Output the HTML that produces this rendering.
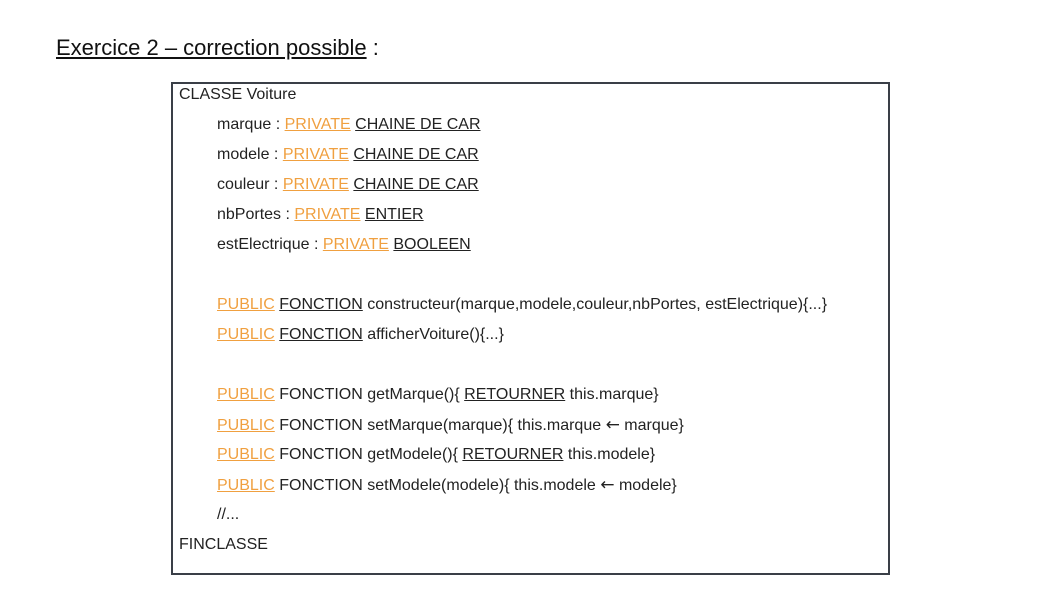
<!DOCTYPE html>
<html><head><meta charset="utf-8"><style>
body{margin:0;width:1062px;height:606px;background:#fff;position:relative;overflow:hidden;font-family:"Liberation Sans",sans-serif;}
.t{position:absolute;left:56px;top:35px;font-size:22px;color:#111;}
.box{position:absolute;left:171px;top:82px;width:715px;height:489px;border:2px solid #3a3f47;}
.l{position:absolute;font-size:16px;color:#222;white-space:nowrap;line-height:18px;}
.o{color:#f0a040;text-decoration:underline;}
.u{text-decoration:underline;}
.a{font-family:"DejaVu Sans",sans-serif;font-size:17px;}
</style></head><body>
<div class="t"><u>Exercice 2 – correction possible</u> :</div>
<div class="box"></div>
<div class="l" style="left:179px;top:86px">CLASSE Voiture</div>
<div class="l" style="left:217px;top:116px">marque : <span class="o">PRIVATE</span> <span class="u">CHAINE DE CAR</span></div>
<div class="l" style="left:217px;top:146px">modele : <span class="o">PRIVATE</span> <span class="u">CHAINE DE CAR</span></div>
<div class="l" style="left:217px;top:176px">couleur : <span class="o">PRIVATE</span> <span class="u">CHAINE DE CAR</span></div>
<div class="l" style="left:217px;top:206px">nbPortes : <span class="o">PRIVATE</span> <span class="u">ENTIER</span></div>
<div class="l" style="left:217px;top:236px">estElectrique : <span class="o">PRIVATE</span> <span class="u">BOOLEEN</span></div>
<div class="l" style="left:217px;top:296px"><span class="o">PUBLIC</span> <span class="u">FONCTION</span> constructeur(marque,modele,couleur,nbPortes, estElectrique){...}</div>
<div class="l" style="left:217px;top:326px"><span class="o">PUBLIC</span> <span class="u">FONCTION</span> afficherVoiture(){...}</div>
<div class="l" style="left:217px;top:386px"><span class="o">PUBLIC</span> FONCTION getMarque(){ <span class="u">RETOURNER</span> this.marque}</div>
<div class="l" style="left:217px;top:416px"><span class="o">PUBLIC</span> FONCTION setMarque(marque){ this.marque <span class="a">←</span> marque}</div>
<div class="l" style="left:217px;top:446px"><span class="o">PUBLIC</span> FONCTION getModele(){ <span class="u">RETOURNER</span> this.modele}</div>
<div class="l" style="left:217px;top:476px"><span class="o">PUBLIC</span> FONCTION setModele(modele){ this.modele <span class="a">←</span> modele}</div>
<div class="l" style="left:217px;top:506px">//...</div>
<div class="l" style="left:179px;top:536px">FINCLASSE</div>
</body></html>
